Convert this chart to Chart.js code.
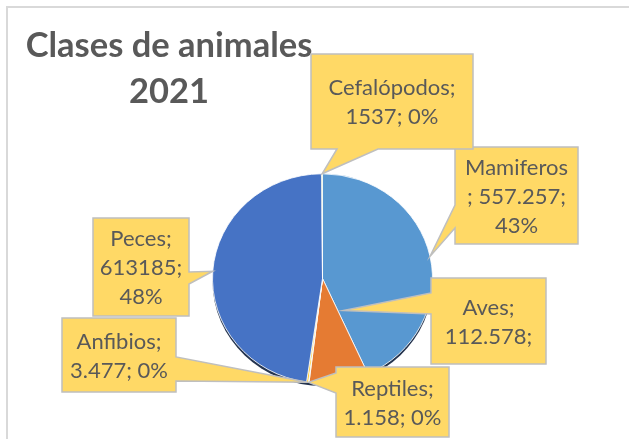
<!DOCTYPE html>
<html>
<head>
<meta charset="utf-8">
<script src="https://cdn.jsdelivr.net/npm/chart.js@4.4.1/dist/chart.umd.min.js"></script>
<style>
html,body{margin:0;padding:0;background:#fff;}
#wrap{width:629px;height:439px;position:relative;}
</style>
</head>
<body>
<div id="wrap"><canvas id="c" width="629" height="439"></canvas></div>
<script>
// ---- data ----
const titleLines = ['Clases de animales', '2021'];
const categories = ['Mamiferos', 'Aves', 'Reptiles', 'Anfibios', 'Peces', 'Cefalópodos'];
const values = [557257, 112578, 1158, 3477, 613185, 1537];
const valueTexts = ['557.257', '112.578', '1.158', '3.477', '613185', '1537'];
const percentTexts = ['43%', '9%', '0%', '0%', '48%', '0%'];

// ---- styles / layout ----
const sliceColors = ['#5898d1', '#e57b33', '#a5a5a5', '#ffc000', '#4673c5', '#70ad47'];
const textColor = '#595959';
const labelFont = '22px Lato';
const titleFont = 'bold 34.5px Lato';
const lineH = 29;
const ySquash = 0.952;

// line format per label: how each callout is wrapped
function labelLines(i) {
  const c = categories[i], v = valueTexts[i], p = percentTexts[i];
  switch (i) {
    case 0: return [c, '; ' + v + ';', p];
    case 1: return [c + ';', v + ';'];
    case 4: return [c + ';', v + ';', p];
    default: return [c + ';', v + '; ' + p];
  }
}
// callout boxes (x, y, w, h) and pointer side/base, tip radius fraction & angle offset
const callouts = [
  {box:[455,147,123,97], side:'left',  base:[205,228]},
  {box:[431,278,115,86], side:'left',  base:[293,314], tipR:0.36, tipAngle:'start', tipOff:-7.5},
  {box:[336,367,113,70], side:'left',  base:[373,393]},
  {box:[62,318,114,74],  side:'right', base:[357,381]},
  {box:[93,218,96,98],   side:'right', base:[272,284]},
  {box:[311,54,162,95],  side:'bottom',base:[337,378]}
];
const drawOrder = [4, 3, 0, 1, 2, 5];

function tipPoint(arc, co) {
  const cx = arc.x, cy = arc.y, r = arc.outerRadius;
  let a;
  if (co.tipAngle === 'start') a = arc.startAngle + (co.tipOff || 0) * Math.PI / 180;
  else a = (arc.startAngle + arc.endAngle) / 2;
  const rr = r * (co.tipR || 1);
  return {x: cx + rr * Math.cos(a), y: cy + rr * Math.sin(a) * ySquash};
}

function calloutPath(ctx, co, tip) {
  const [x, y, w, h] = co.box;
  const L = x, R = x + w, T = y, B = y + h;
  ctx.beginPath();
  ctx.moveTo(L, T);
  ctx.lineTo(R, T);
  if (co.side === 'right') { ctx.lineTo(R, co.base[0]); ctx.lineTo(tip.x, tip.y); ctx.lineTo(R, co.base[1]); }
  ctx.lineTo(R, B);
  if (co.side === 'bottom') { ctx.lineTo(co.base[1], B); ctx.lineTo(tip.x, tip.y); ctx.lineTo(co.base[0], B); }
  ctx.lineTo(L, B);
  if (co.side === 'left') { ctx.lineTo(L, co.base[1]); ctx.lineTo(tip.x, tip.y); ctx.lineTo(L, co.base[0]); }
  ctx.closePath();
}

const piePlugin = {
  id: 'pie3d',
  beforeDatasetsDraw(chart) {
    const ctx = chart.ctx;
    const arc = chart.getDatasetMeta(0).data[0];
    const cx = arc.x, cy = arc.y, r = arc.outerRadius;
    ctx.save();
    // frame
    ctx.strokeStyle = '#d9d9d9'; ctx.lineWidth = 2;
    ctx.strokeRect(7, 7, 800, 600);
    ctx.translate(cx, cy); ctx.scale(1, ySquash); ctx.translate(-cx, -cy);
    // 3D side / shadow
    ctx.beginPath();
    ctx.arc(cx, cy + 3, r, 0, Math.PI * 2);
    ctx.fillStyle = '#24344f';
    ctx.fill();
  },
  afterDatasetsDraw(chart) {
    chart.ctx.restore();
  },
  afterDraw(chart) {
    const ctx = chart.ctx;
    ctx.save();
    // title
    ctx.fillStyle = textColor;
    ctx.font = titleFont;
    ctx.textAlign = 'center';
    ctx.textBaseline = 'alphabetic';
    ctx.fillText(titleLines[0], 169, 57);
    ctx.fillText(titleLines[1], 169, 103);
    // callouts
    const arcs = chart.getDatasetMeta(0).data;
    drawOrder.forEach(i => {
      const co = callouts[i];
      const tip = tipPoint(arcs[i], co);
      calloutPath(ctx, co, tip);
      ctx.fillStyle = '#ffd966';
      ctx.fill();
      ctx.strokeStyle = '#bfbfbf';
      ctx.lineWidth = 1.5;
      ctx.lineJoin = 'miter';
      ctx.stroke();
      const lines = labelLines(i);
      const [x, y, w, h] = co.box;
      ctx.fillStyle = textColor;
      ctx.font = labelFont;
      ctx.textAlign = 'center';
      ctx.textBaseline = 'middle';
      const startY = y + h / 2 - (lines.length - 1) * lineH / 2;
      lines.forEach((t, k) => ctx.fillText(t, x + w / 2, startY + k * lineH + 1));
    });
    ctx.restore();
  }
};

new Chart(document.getElementById('c'), {
  type: 'pie',
  data: {
    labels: categories,
    datasets: [{
      data: values,
      backgroundColor: sliceColors,
      borderColor: 'rgba(255,255,255,0.85)',
      borderWidth: 1
    }]
  },
  options: {
    responsive: false,
    animation: false,
    events: [],
    layout: {padding: {left: 212, right: 196, top: 168, bottom: 50}},
    plugins: {
      legend: {display: false},
      tooltip: {enabled: false},
      title: {display: false}
    }
  },
  plugins: [piePlugin]
});
</script>
</body>
</html>
